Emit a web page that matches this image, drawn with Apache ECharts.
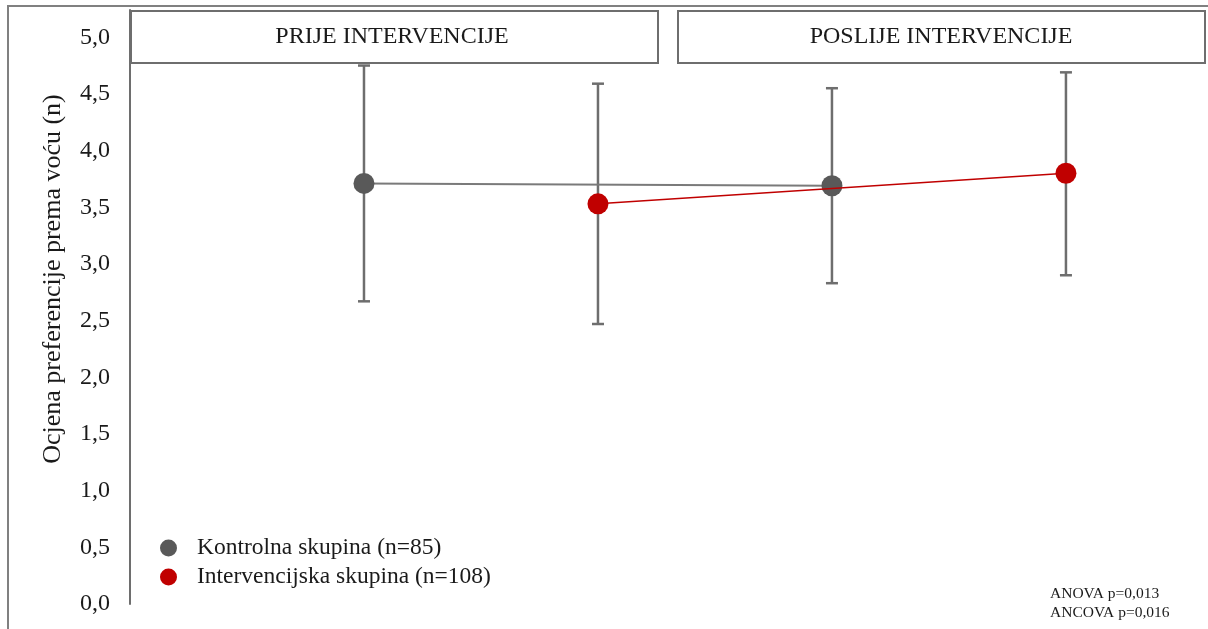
<!DOCTYPE html>
<html>
<head>
<meta charset="utf-8">
<script src="https://cdn.jsdelivr.net/npm/echarts@6/dist/echarts.min.js"></script>
<style>
  html, body { margin: 0; padding: 0; background: #fff; }
  #main { width: 1208px; height: 629px; }
</style>
</head>
<body>
<div id="main"></div>
<script>
// phases shown in the header boxes
var phases = ['PRIJE INTERVENCIJE', 'POSLIJE INTERVENCIJE'];
var groups = ['Kontrolna skupina (n=85)', 'Intervencijska skupina (n=108)'];
var yTicks = ['0,0', '0,5', '1,0', '1,5', '2,0', '2,5', '3,0', '3,5', '4,0', '4,5', '5,0'];

// slot along the x axis (1..4) for each group, pre / post
var controlSlot = [1, 3];
var interventionSlot = [2, 4];

var controlMean = [3.71, 3.69];
var controlLow = [2.67, 2.83];
var controlHigh = [4.75, 4.55];

var interventionMean = [3.53, 3.80];
var interventionLow = [2.47, 2.90];
var interventionHigh = [4.59, 4.69];

var stats = ['ANOVA p=0,013', 'ANCOVA p=0,016'];

var font = '"Liberation Serif", "Times New Roman", serif';
var grey = '#595959';
var red = '#C00000';
var barColor = '#6e6e6e';

function pairs(xs, ys) {
  return xs.map(function (x, i) { return [x, ys[i]]; });
}

var errData = [];
controlSlot.forEach(function (x, i) { errData.push([x, controlLow[i], controlHigh[i]]); });
interventionSlot.forEach(function (x, i) { errData.push([x, interventionLow[i], interventionHigh[i]]); });

var myChart = echarts.init(document.getElementById('main'));

var option = {
  animation: false,
  grid: { left: 130, right: 4, top: 10, bottom: 25 },
  xAxis: {
    type: 'value', min: 0, max: 4.59,
    show: false
  },
  yAxis: {
    type: 'value', min: 0, max: 5.24, interval: 0.5,
    name: 'Ocjena preferencije prema voću (n)',
    nameLocation: 'middle',
    nameGap: 64,
    nameTextStyle: { fontFamily: font, fontSize: 26, color: '#1a1a1a', padding: [0, 0, 0, 56] },
    axisLine: { show: true, lineStyle: { color: '#6e6e6e', width: 2 } },
    axisTick: { show: false },
    splitLine: { show: false },
    axisLabel: {
      margin: 20,
      fontFamily: font, fontSize: 24, color: '#1a1a1a',
      formatter: function (v) {
        var k = Math.round(v * 2);
        if (Math.abs(v * 2 - k) > 1e-6 || k > 10) return '';
        return yTicks[k];
      }
    }
  },
  legend: {
    orient: 'vertical',
    left: 155, top: 531,
    itemGap: 5,
    icon: 'circle',
    itemWidth: 17, itemHeight: 17,
    data: groups,
    textStyle: { fontFamily: font, fontSize: 23.5, color: '#1a1a1a', padding: [0, 0, 0, 15] }
  },
  graphic: [
    { type: 'rect', shape: { x: 8, y: 6, width: 1220, height: 640 }, style: { fill: null, stroke: '#808080', lineWidth: 2 }, z: 0 },
    {
      type: 'rect', shape: { x: 131, y: 11, width: 527, height: 52 },
      style: { fill: '#fff', stroke: '#6e6e6e', lineWidth: 2 }, z: 100
    },
    {
      type: 'rect', shape: { x: 678, y: 11, width: 527, height: 52 },
      style: { fill: '#fff', stroke: '#6e6e6e', lineWidth: 2 }, z: 100
    },
    {
      type: 'text', x: 392, y: 37, z: 101,
      style: { text: phases[0], fontFamily: font, fontSize: 24, fill: '#1a1a1a', align: 'center', verticalAlign: 'middle' }
    },
    {
      type: 'text', x: 941, y: 37, z: 101,
      style: { text: phases[1], fontFamily: font, fontSize: 24, fill: '#1a1a1a', align: 'center', verticalAlign: 'middle' }
    },
    {
      type: 'text', x: 1050, y: 584, z: 101,
      style: { text: stats.join('\n'), fontFamily: font, fontSize: 15.5, lineHeight: 19, fill: '#1a1a1a' }
    }
  ],
  series: [
    {
      type: 'custom',
      name: 'err',
      z: 1,
      renderItem: function (params, api) {
        var top = api.coord([api.value(0), api.value(2)]);
        var bot = api.coord([api.value(0), api.value(1)]);
        var cap = 6;
        var st = { stroke: barColor, lineWidth: 2.5 };
        return {
          type: 'group',
          children: [
            { type: 'line', shape: { x1: top[0], y1: top[1], x2: bot[0], y2: bot[1] }, style: st },
            { type: 'line', shape: { x1: top[0] - cap, y1: top[1], x2: top[0] + cap, y2: top[1] }, style: st },
            { type: 'line', shape: { x1: bot[0] - cap, y1: bot[1], x2: bot[0] + cap, y2: bot[1] }, style: st }
          ]
        };
      },
      data: errData
    },
    {
      name: groups[0],
      type: 'line',
      z: 2,
      data: pairs(controlSlot, controlMean),
      symbol: 'circle', symbolSize: 21,
      itemStyle: { color: grey },
      lineStyle: { color: '#7a7a7a', width: 2 }
    },
    {
      name: groups[1],
      type: 'line',
      z: 3,
      data: pairs(interventionSlot, interventionMean),
      symbol: 'circle', symbolSize: 21,
      itemStyle: { color: red },
      lineStyle: { color: red, width: 1.5 }
    }
  ]
};

myChart.setOption(option);
</script>
</body>
</html>
